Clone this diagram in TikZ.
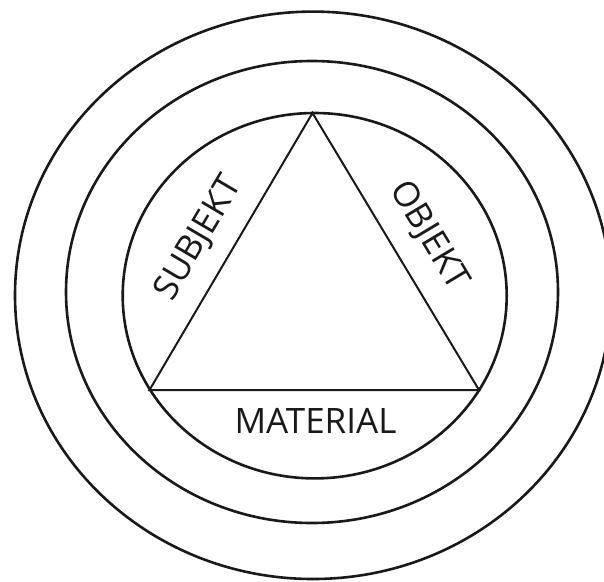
\documentclass[tikz,border=0pt]{standalone}
\usepackage{fontspec}
\setmainfont{Open Sans}
\begin{document}
\begin{tikzpicture}[x=1pt,y=-1pt,
  ring/.style={draw=black!90,line width=2.6pt},
  tri/.style={draw=black!90,line width=2pt,line join=miter},
  lbl/.style={inner sep=0pt,font=\fontsize{35}{40}\selectfont,text=black!90}]
\useasboundingbox (0,0) rectangle (604,581);
% rings
\draw[ring] (313,295.3) ellipse [x radius=298,y radius=283.7];
\draw[ring] (312,292) ellipse [x radius=246,y radius=231];
\draw[ring] (314.7,295.7) ellipse [x radius=192,y radius=182.7];
% triangle
\coordinate (apex) at (312.5,113);
\coordinate (bl) at (149.5,390);
\coordinate (br) at (479,390);
\draw[tri] (apex) -- (br) -- (bl) -- cycle;
% labels
\node[lbl] (material) at (315.5,420.5) {MATERIAL};
\node[lbl,rotate=59.5] (subjekt) at (199,238.5) {SUBJEKT};
\node[lbl,rotate=-59] (objekt) at (428.5,236) {OBJEKT};
\end{tikzpicture}
\end{document}
